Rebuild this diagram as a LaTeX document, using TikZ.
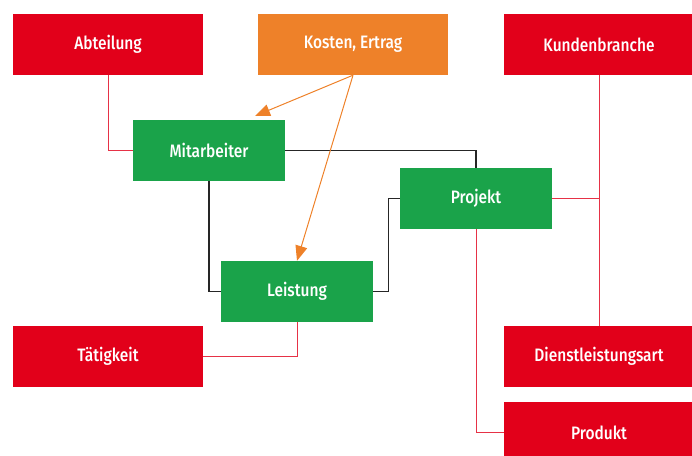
\documentclass[tikz,border=0pt]{standalone}
\usepackage{fontspec}
\setmainfont{Fira Sans}[FakeStretch=0.86, UprightFont=* Medium]
\usetikzlibrary{arrows.meta}
\definecolor{boxred}{HTML}{E2001A}
\definecolor{boxgreen}{HTML}{1AA34A}
\definecolor{boxorange}{HTML}{EE8129}
\definecolor{linered}{HTML}{E63246}
\begin{document}
\begin{tikzpicture}[x=1pt,y=-1pt,
		box/.style={minimum height=61pt, inner sep=0pt, text=white,
			font=\fontsize{18}{21}\selectfont},
		redbox/.style={box, fill=boxred, minimum width=190pt},
		greenbox/.style={box, fill=boxgreen, minimum width=152pt},
		orangebox/.style={box, fill=boxorange, minimum width=190pt},
		redline/.style={linered, line width=1pt},
		blackline/.style={black!85, line width=1.1pt},
		costarrow/.style={boxorange, line width=1pt, -{Triangle[length=15pt,width=12pt]}}]
			\useasboundingbox (0,0) rectangle (692,455);
			
			% Top row
			\node[redbox] (abteilung) at (108,44.5) {Abteilung};
			\node[orangebox] (kosten) at (353,44.5) {Kosten, Ertrag};
			\node[redbox] (kundenbranche) at (599,44.5) {Kundenbranche};
			
			% Middle: the green entities
			\node[greenbox] (mitarbeiter) at (209,150.5) {Mitarbeiter};
			\node[greenbox] (projekt) at (476,198.5) {Projekt};
			\node[greenbox] (leistung) at (297,291.5) {Leistung};
			
			% Bottom row (Produkt runs past the lower edge)
			\node[redbox] (taetigkeit) at (108,356.5) {Tätigkeit};
			\node[redbox] (dienstart) at (599,356.5) {Dienstleistungsart};
			\node[redbox] (produkt) at (599,432.5) {Produkt};
			
			% Links between the green boxes
			\draw[blackline] (mitarbeiter.east) -| (projekt.north);
			\draw[blackline] (mitarbeiter.south) |- (leistung.west);
			\draw[blackline] (leistung.east) -- ++(15,0) |- (projekt.west);
			
			% Links to the red boxes
			\draw[redline] (abteilung.south) |- (mitarbeiter.west);
			\draw[redline] (leistung.south) |- (taetigkeit.east);
			\draw[redline] (kundenbranche.south) -- (dienstart.north);
			\draw[redline] (projekt.east) -- (kundenbranche.south |- projekt.east);
			\draw[redline] (projekt.south) |- (produkt.west);
			
			% Costs point to Mitarbeiter and Leistung
			\coordinate (mtip) at (255,116);
			\draw[costarrow] (kosten.south) -- (mtip);
			\draw[costarrow] (kosten.south) -- (leistung.north);
		\end{tikzpicture}
\end{document}
